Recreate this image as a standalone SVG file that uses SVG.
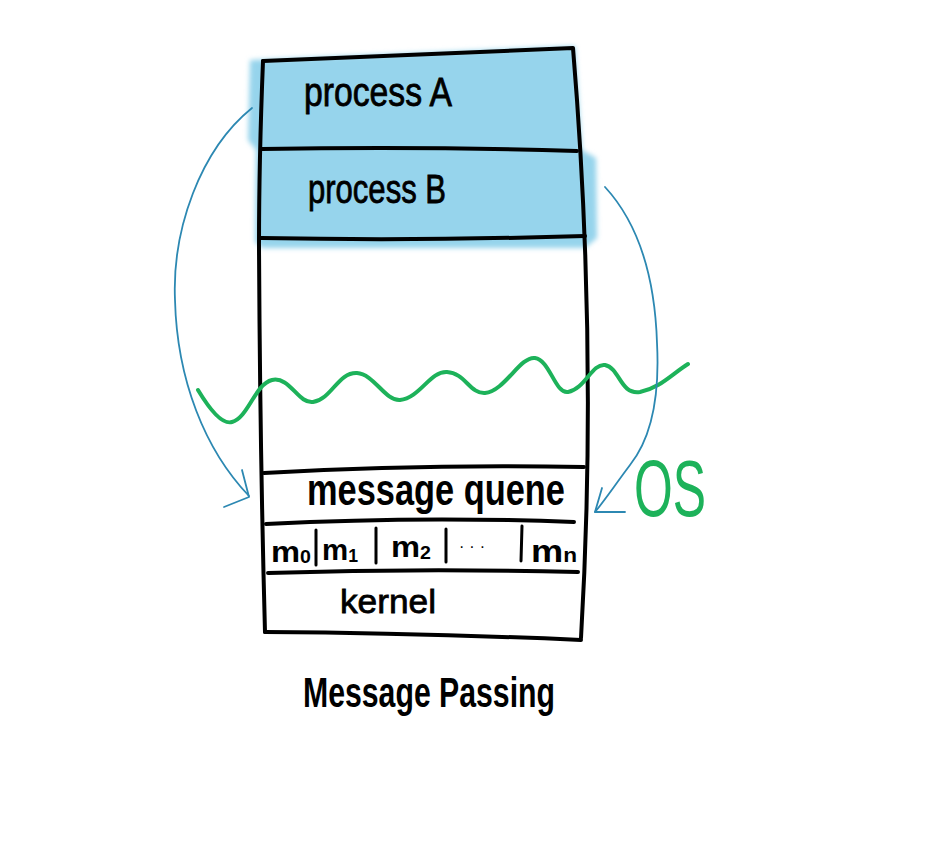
<svg xmlns="http://www.w3.org/2000/svg" width="946" height="849" viewBox="0 0 946 849">
<style>
.ink{fill:none;stroke:#000;stroke-width:4;stroke-linecap:round;stroke-linejoin:round}
.thin{fill:none;stroke:#000;stroke-width:3;stroke-linecap:round}
.hand{font-family:"Liberation Sans","DejaVu Sans",sans-serif;fill:#000}
.arrow{fill:none;stroke:#2C88B2;stroke-width:1.8;stroke-linecap:round;stroke-linejoin:round}
.green{fill:none;stroke:#1DB25A;stroke-width:4;stroke-linecap:round;stroke-linejoin:round}
.os{font-family:"Liberation Sans Narrow","Liberation Sans",sans-serif;fill:#1DB25A}
</style>
<defs>
<filter id="soft" x="-10%" y="-10%" width="120%" height="120%"><feGaussianBlur stdDeviation="2.5"/></filter>
</defs>
<rect width="946" height="849" fill="#fff"/>
<path d="M250,60 L575,46 L582,150 L596,158 L597,238 L585,248 L262,248 L255,242 L256,150 L248,140 Z" fill="#96D4EC" filter="url(#soft)"/>
<g id="box">
<path class="ink" d="M263,61 L573,48 Q598,350 581,638"/>
<path class="ink" d="M263,61 Q259,160 259,245 Q260,450 265,632"/>
<path class="ink" d="M265,632 Q420,633 581,640"/>
</g>
<g id="processA">
<text class="hand" x="304" y="106" font-size="40" stroke="#000" stroke-width="0.8" textLength="148" lengthAdjust="spacingAndGlyphs">process A</text>
</g>
<g id="processB">
<path class="ink" d="M262,149 Q420,146 577,151"/>
<text class="hand" x="308" y="203" font-size="40" stroke="#000" stroke-width="0.8" textLength="138" lengthAdjust="spacingAndGlyphs">process B</text>
<path class="ink" d="M261,238 Q420,241 585,236"/>
</g>
<g id="wave">
<path class="green" d="M198,390 C210,410 222,425 232,422 C248,418 255,384 272,380 C290,376 298,404 313,402 C332,399 338,372 357,373 C374,374 385,401 400,400 C420,398 430,371 447,372 C465,373 470,394 485,393 C505,391 520,356 535,358 C550,360 555,394 568,392 C585,389 592,363 605,365 C620,368 620,395 640,392 C660,388 672,374 688,364"/>
</g>
<g id="messageQueue">
<path class="ink" d="M264,473 Q420,464 584,467"/>
<text class="hand" x="307" y="505" font-size="44" font-weight="bold" textLength="258" lengthAdjust="spacingAndGlyphs">message quene</text>
<path class="ink" d="M266,524 Q420,516 574,522"/>
</g>
<g id="cells">
<path class="thin" d="M316,530 L316,565 M376,528 L376,563 M446,529 L446,562 M522,526 L521,561"/>
<text class="hand" x="271" y="562" font-size="30" font-weight="bold" textLength="40" lengthAdjust="spacingAndGlyphs">m<tspan font-size="18" dy="1">0</tspan></text>
<text class="hand" x="322" y="560" font-size="30" font-weight="bold" textLength="36" lengthAdjust="spacingAndGlyphs">m<tspan font-size="18" dy="2">1</tspan></text>
<text class="hand" x="391" y="557" font-size="30" font-weight="bold" textLength="40" lengthAdjust="spacingAndGlyphs">m<tspan font-size="18" dy="2">2</tspan></text>
<text class="hand" x="459" y="552" font-size="16" fill="#555" textLength="26" lengthAdjust="spacing">···</text>
<text class="hand" x="531" y="562" font-size="32" font-weight="bold" textLength="46" lengthAdjust="spacingAndGlyphs">m<tspan font-size="20">n</tspan></text>
<path class="ink" d="M268,573 Q420,568 578,572"/>
</g>
<g id="kernel">
<text class="hand" x="340" y="613" font-size="34" stroke="#000" stroke-width="0.8" textLength="96" lengthAdjust="spacingAndGlyphs">kernel</text>
</g>
<g id="os">
<text class="os" x="634" y="516" font-size="80" textLength="72" lengthAdjust="spacingAndGlyphs">OS</text>
</g>
<g id="title">
<text class="hand" x="303" y="707" font-size="42" font-weight="bold" textLength="252" lengthAdjust="spacingAndGlyphs">Message Passing</text>
</g>
<g id="connectors">
<path class="arrow" d="M252,108 C200,150 172,230 175,300 C177,380 205,450 249,496"/>
<path class="arrow" d="M242,470 L249,497 L224,507"/>
<path class="arrow" d="M605,187 C640,225 655,280 657,343 C660,400 650,440 630,465 C615,485 605,500 595,512"/>
<path class="arrow" d="M602,488 L595,512 L625,512"/>
</g>
</svg>
